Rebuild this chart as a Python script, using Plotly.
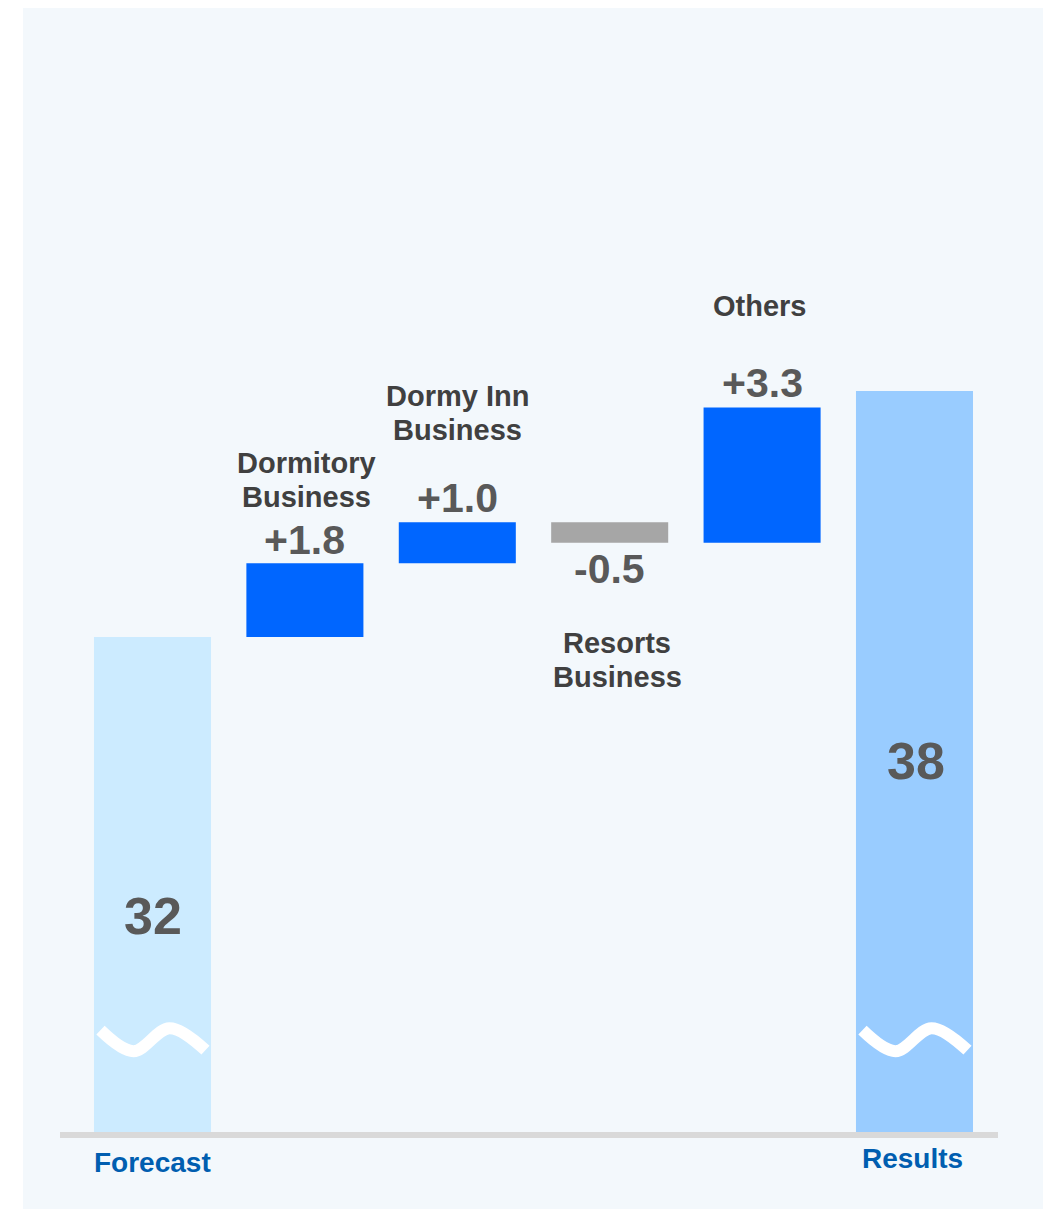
import numpy as np
import plotly.graph_objects as go

# ---- data ----
categories = ["Forecast", "Dormitory Business", "Dormy Inn Business", "Resorts Business", "Others", "Results"]
forecast_value = 32
results_value = 38
step_label_lines = [["Dormitory", "Business"], ["Dormy Inn", "Business"], ["Resorts", "Business"], ["Others"]]
step_values = [1.8, 1.0, -0.5, 3.3]
step_text = ["+1.8", "+1.0", "-0.5", "+3.3"]

# broken axis floor (visible bottom of the value axis)
axis_floor = 19.93
axis_top = 47.34

W, H = 1043, 1209
ml, mr, mt, mb = 60, 45, 8, 77
plot_w = W - ml - mr
plot_h = H - mt - mb

FONT = "Liberation Sans, Arial, sans-serif"
NUM_COLOR = "#595959"
LBL_COLOR = "#404040"
CAT_COLOR = "#005EB0"
UP_COLOR = "#0066FF"
DOWN_COLOR = "#A6A6A6"
FC_COLOR = "#CCEBFF"
RES_COLOR = "#99CCFF"
PANEL = "#F3F8FC"

x_idx = list(range(len(categories)))
x_range = [-0.607, 5.548]
bar_w = 0.768

fig = go.Figure()

# totals
fig.add_trace(go.Bar(
    x=[x_idx[0], x_idx[-1]],
    y=[forecast_value - axis_floor, results_value - axis_floor],
    base=[axis_floor, axis_floor],
    width=bar_w,
    marker=dict(color=[FC_COLOR, RES_COLOR], line=dict(width=0)),
    hoverinfo="skip", showlegend=False,
))

# steps
cum = [forecast_value]
for v in step_values:
    cum.append(cum[-1] + v)
bases = cum[:-1]
fig.add_trace(go.Bar(
    x=x_idx[1:-1],
    y=step_values,
    base=bases,
    width=bar_w,
    marker=dict(color=[UP_COLOR if v > 0 else DOWN_COLOR for v in step_values], line=dict(width=0)),
    hoverinfo="skip", showlegend=False,
))

# axis-break wave symbols on the total bars (pixel offsets -> data units)
px_per_unit_y = plot_h / (axis_top - axis_floor)
px_per_unit_x = plot_w / (x_range[1] - x_range[0])
wave_dx_px = [-52, -19, 17, 53]
wave_dy_px = [-10, 11, -12, 10]   # relative to the wave centre line, downward positive
wave_center = 22.17
for i in (x_idx[0], x_idx[-1]):
    xs = [i + d / px_per_unit_x for d in wave_dx_px]
    ys = [wave_center - d / px_per_unit_y for d in wave_dy_px]
    fig.add_trace(go.Scatter(
        x=xs, y=ys, mode="lines",
        line=dict(color="white", width=12, shape="spline", smoothing=1.0),
        hoverinfo="skip", showlegend=False,
    ))

annotations = []
# total value labels
annotations.append(dict(x=x_idx[0], y=forecast_value, yshift=-279, text=f"<b>{forecast_value}</b>",
                        font=dict(size=52, color=NUM_COLOR, family=FONT)))
annotations.append(dict(x=x_idx[-1] + 0.01, y=results_value, yshift=-370, text=f"<b>{results_value}</b>",
                        font=dict(size=52, color=NUM_COLOR, family=FONT)))
# category labels for totals
annotations.append(dict(x=x_idx[0], y=axis_floor, yshift=-30, text="<b>Forecast</b>",
                        font=dict(size=28, color=CAT_COLOR, family=FONT)))
annotations.append(dict(x=x_idx[-1] - 0.01, y=axis_floor, yshift=-26, text="<b>Results</b>",
                        font=dict(size=28, color=CAT_COLOR, family=FONT)))

# step labels
num_shift = [23, 24, -26, 24]
line_shifts = [[100, 66], [126, 92], [-100, -134], [101]]
lbl_dx = [0.01, 0.0, 0.05, -0.02]
for k, v in enumerate(step_values):
    xi = x_idx[k + 1]
    anchor_y = cum[k + 1]
    annotations.append(dict(x=xi, y=anchor_y, yshift=num_shift[k], text=f"<b>{step_text[k]}</b>",
                            font=dict(size=41, color=NUM_COLOR, family=FONT)))
    for line, ys in zip(step_label_lines[k], line_shifts[k]):
        annotations.append(dict(x=xi + lbl_dx[k], y=anchor_y, yshift=ys, text=f"<b>{line}</b>",
                                font=dict(size=29, color=LBL_COLOR, family=FONT)))

for a in annotations:
    a.update(xref="x", yref="y", showarrow=False, xanchor="center", yanchor="middle", align="center")

shapes = [
    # light panel background
    dict(type="rect", xref="paper", yref="paper",
         x0=(23 - ml) / plot_w, x1=(W - ml) / plot_w,
         y0=-mb / plot_h, y1=1.0,
         fillcolor=PANEL, line=dict(width=0), layer="below"),
    # baseline
    dict(type="line", xref="paper", yref="paper", x0=0, x1=1,
         y0=-3 / plot_h, y1=-3 / plot_h,
         line=dict(color="#D9D9D9", width=6), layer="above"),
]

fig.update_layout(
    width=W, height=H,
    margin=dict(l=ml, r=mr, t=mt, b=mb),
    paper_bgcolor="white",
    plot_bgcolor="rgba(0,0,0,0)",
    barmode="overlay",
    xaxis=dict(range=x_range, showgrid=False, zeroline=False, showticklabels=False,
               showline=False, tickvals=x_idx, ticktext=categories, fixedrange=True),
    yaxis=dict(range=[axis_floor, axis_top], showgrid=False, zeroline=False, showticklabels=False,
               showline=False, fixedrange=True),
    annotations=annotations,
    shapes=shapes,
    font=dict(family=FONT),
)

fig.write_html(
    "out.html",
    config={"displayModeBar": False},
    post_script="document.body.style.margin='0'; document.body.style.overflow='hidden';",
)
